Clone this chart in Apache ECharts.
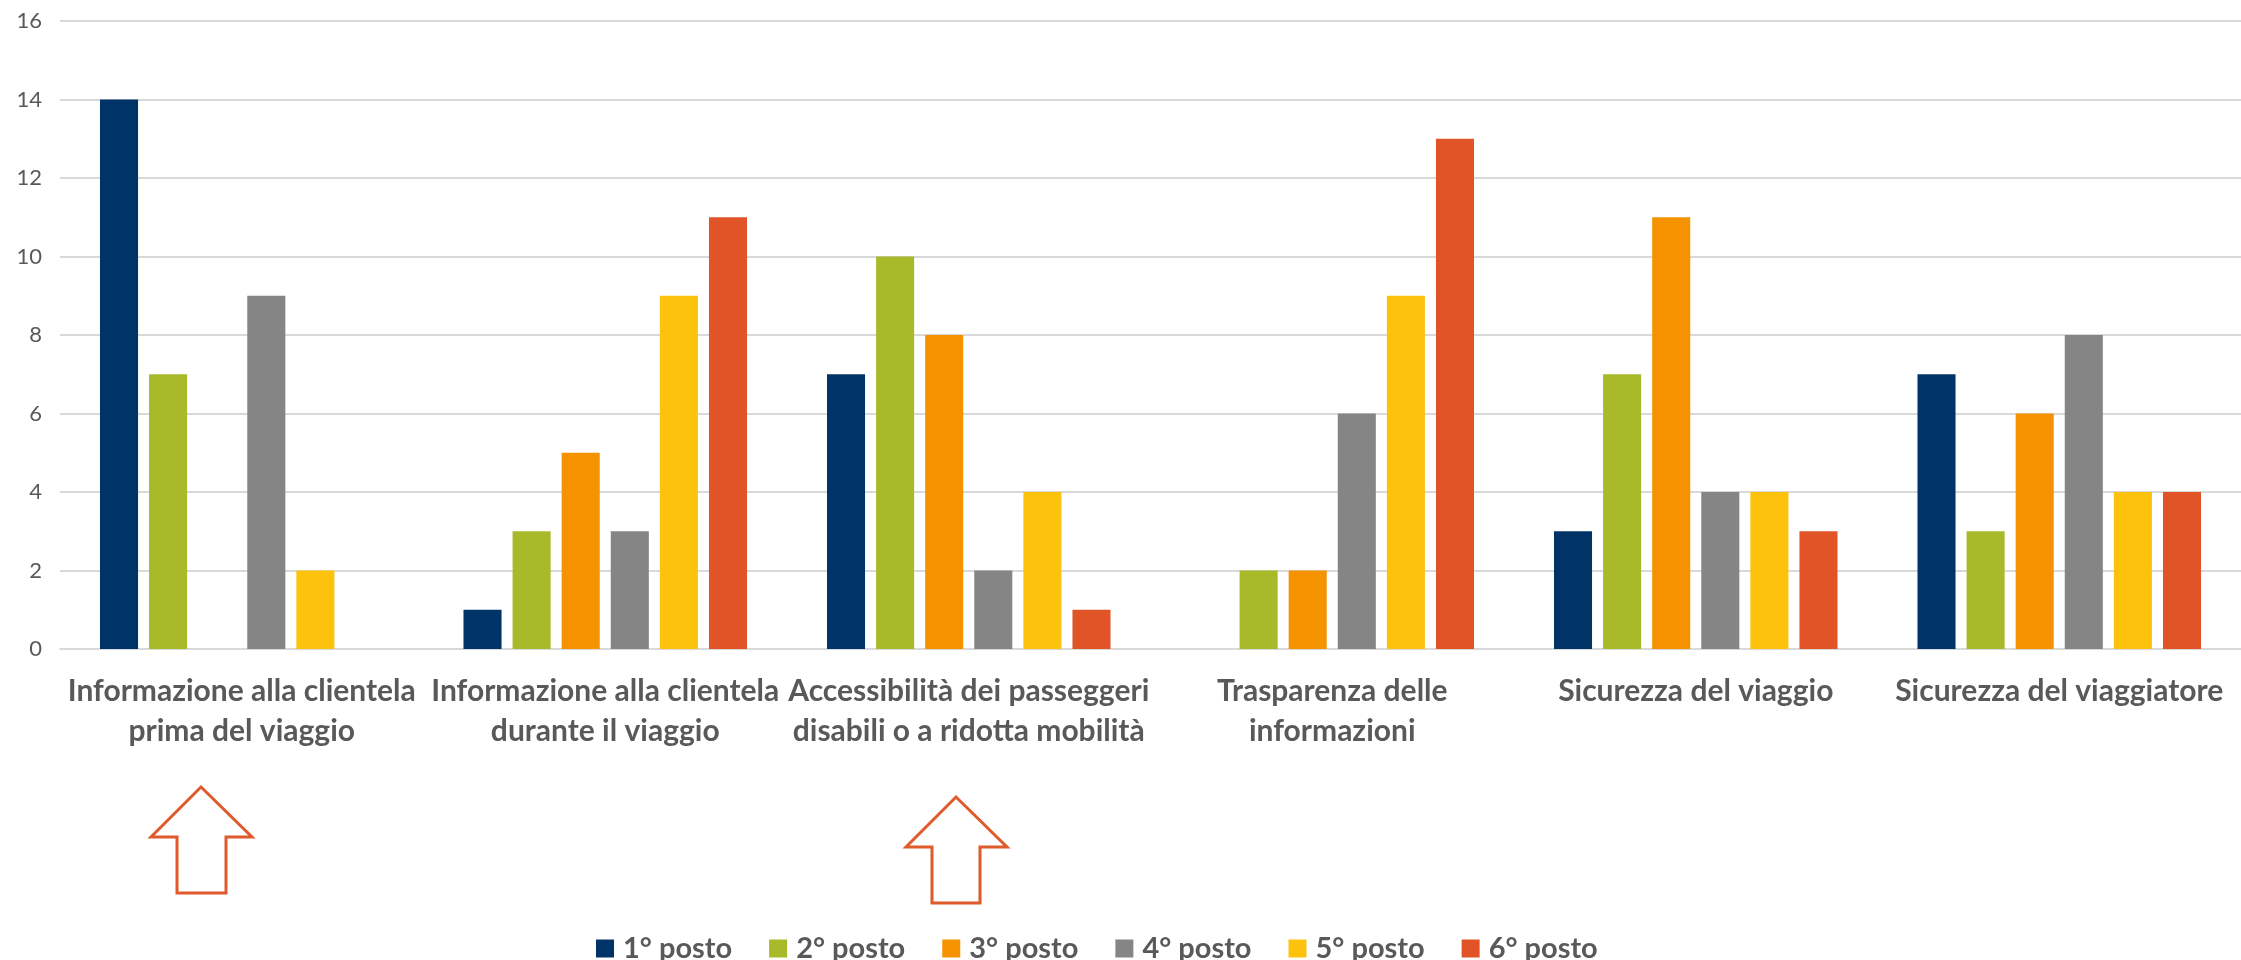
<!DOCTYPE html>
<html>
<head>
<meta charset="utf-8">
<script src="https://cdn.jsdelivr.net/npm/echarts@6/dist/echarts.min.js"></script>
<style>
html,body{margin:0;padding:0;background:#fff;}
#c{width:2241px;height:960px;}
</style>
</head>
<body>
<div id="c"></div>
<script>
const categories = [
  "Informazione alla clientela\nprima del viaggio",
  "Informazione alla clientela\ndurante il viaggio",
  "Accessibilità dei passeggeri\ndisabili o a ridotta mobilità",
  "Trasparenza delle\ninformazioni",
  "Sicurezza del viaggio",
  "Sicurezza del viaggiatore"
];
const seriesNames = ["1° posto", "2° posto", "3° posto", "4° posto", "5° posto", "6° posto"];
const posto1 = [14, 1, 7, 0, 3, 7];
const posto2 = [7, 3, 10, 2, 7, 3];
const posto3 = [0, 5, 8, 2, 11, 6];
const posto4 = [9, 3, 2, 6, 4, 8];
const posto5 = [2, 9, 4, 9, 4, 4];
const posto6 = [0, 11, 1, 13, 3, 4];
const seriesValues = [posto1, posto2, posto3, posto4, posto5, posto6];
const colors = ["#003466", "#a8b92a", "#f59200", "#858585", "#fdc20c", "#e05427"];
const yTicks = { min: 0, max: 16, interval: 2 };

const chart = echarts.init(document.getElementById('c'), null, { renderer: 'canvas' });

const arrowStyle = { fill: '#ffffff', stroke: '#e05a2b', lineWidth: 3 };

chart.setOption({
  animation: false,
  color: colors,
  grid: { left: 60, right: 0, top: 21, bottom: 311, containLabel: false },
  legend: {
    data: seriesNames,
    left: 591,
    top: 929,
    itemWidth: 18,
    itemHeight: 18,
    itemGap: 37,
    icon: 'rect',
    textStyle: { fontFamily: 'Lato', fontWeight: 'bold', fontSize: 29, color: '#595959', padding: [0, 0, 0, 4] }
  },
  xAxis: {
    type: 'category',
    data: categories,
    axisLine: { show: true, lineStyle: { color: '#d9d9d9', width: 2 } },
    axisTick: { show: false },
    axisLabel: {
      interval: 0,
      margin: 22,
      fontFamily: 'Lato',
      fontWeight: 'bold',
      fontSize: 30,
      lineHeight: 40,
      color: '#595959'
    }
  },
  yAxis: {
    type: 'value',
    min: yTicks.min,
    max: yTicks.max,
    interval: yTicks.interval,
    axisLine: { show: false },
    axisTick: { show: false },
    splitLine: { lineStyle: { color: '#d9d9d9', width: 2 } },
    axisLabel: { fontFamily: 'Lato', fontSize: 22, color: '#595959', margin: 18 }
  },
  series: seriesNames.map((n, i) => ({
    name: n,
    type: 'bar',
    data: seriesValues[i],
    barGap: '29%',
    barCategoryGap: '22%',
    itemStyle: { color: colors[i] }
  })),
  graphic: [
    {
      type: 'polygon',
      shape: { points: [[201,787],[252,837],[226,837],[226,893],[177,893],[177,837],[151,837]] },
      style: arrowStyle
    },
    {
      type: 'polygon',
      shape: { points: [[956,797],[1007,847],[980,847],[980,903],[932,903],[932,847],[906,847]] },
      style: arrowStyle
    }
  ]
});
</script>
</body>
</html>
